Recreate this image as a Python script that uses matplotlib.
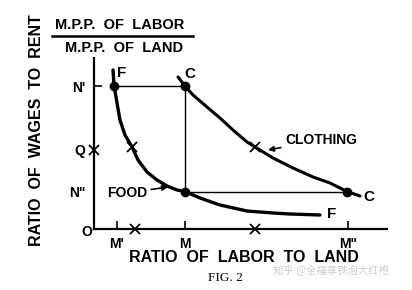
import matplotlib.pyplot as plt

# ratio of labor to land (x) vs ratio of wages to rent (y)
food_x = [1.9, 2.0, 2.3, 2.6, 3.1, 3.8, 4.4, 5.3, 6.3, 7.3, 8.3, 9.1,
          10.6, 12.6, 15.3, 17.9, 19.6, 22.6]
food_y = [15.9, 14.4, 12.6, 10.9, 9.4, 8.2, 6.9, 5.7, 4.9, 4.3, 3.9, 3.75,
          3.1, 2.4, 1.8, 1.6, 1.5, 1.4]

cloth_x = [8.4, 9.1, 9.9, 11.3, 12.6, 13.9, 15.3, 16.1, 17.9, 19.9, 21.9,
           23.6, 25.3, 26.6]
cloth_y = [15.2, 14.3, 13.4, 12.2, 11.1, 9.9, 8.7, 8.2, 7.1, 6.1, 5.2,
           4.6, 3.75, 3.3]

# equilibrium points (dots) and reference points (crosses)
dot_x = [2.0, 9.1, 9.1, 25.3]
dot_y = [14.3, 14.3, 3.75, 3.75]
cross_x = [0, 3.8, 16.1, 4.1, 16.1]
cross_y = [7.9, 8.2, 8.2, 0, 0]

yticks = [14.3, 7.9, 3.75]
ylabels = ["N'", "Q", 'N"']
xticks = [2.3, 9.1, 25.4]
xlabels = ["M'", "M", 'M"']

plt.rcParams['font.family'] = ['Liberation Sans', 'DejaVu Sans']
fig = plt.figure(figsize=(4.12, 2.90), dpi=100)
ax = fig.add_axes([94 / 412, 61 / 290, 293 / 412, 171 / 290])

for s in ['top', 'right']:
    ax.spines[s].set_visible(False)
for s in ['left', 'bottom']:
    ax.spines[s].set_linewidth(1.6)
ax.set_xlim(0, 29.3)
ax.set_ylim(0, 17.1)

ax.set_xticks(xticks)
ax.set_xticklabels(xlabels, fontsize=10, fontweight='bold')
ax.set_yticks(yticks)
ax.set_yticklabels(ylabels, fontsize=10, fontweight='bold')
ax.tick_params(direction='in', length=6, width=1.2, pad=6)
# only N' carries a tick mark on the vertical axis
for i, t in enumerate(ax.yaxis.get_major_ticks()):
    if i > 0:
        t.tick1line.set_visible(False)

# construction lines
ax.plot([dot_x[0], dot_x[1]], [dot_y[0], dot_y[1]], color='black', lw=1)
ax.plot([dot_x[1], dot_x[2]], [dot_y[1], dot_y[2]], color='black', lw=1)
ax.plot([dot_x[2], dot_x[3]], [dot_y[2], dot_y[3]], color='black', lw=1)

# the two curves
ax.plot(food_x, food_y, color='black', lw=2.4, solid_capstyle='round',
        solid_joinstyle='round')
ax.plot(cloth_x, cloth_y, color='black', lw=2.2, solid_capstyle='round',
        solid_joinstyle='round')

ax.plot(dot_x, dot_y, 'o', color='black', ms=6, clip_on=False)
ax.plot(cross_x, cross_y, 'x', color='black', ms=7, mew=1.3, clip_on=False)

bold = dict(fontweight='bold', color='black')
ax.text(2.8, 15.6, 'F', fontsize=11, ha='center', va='center', **bold)
ax.text(9.6, 15.5, 'C', fontsize=11, ha='center', va='center', **bold)
ax.text(23.8, 1.5, 'F', fontsize=11, ha='center', va='center', **bold)
ax.text(27.5, 3.2, 'C', fontsize=11, ha='center', va='center', **bold)
ax.text(-0.7, -0.3, 'O', fontsize=10, ha='center', va='center', **bold)

ax.annotate('CLOTHING', xy=(17.4, 7.9), xytext=(19.1, 8.9), fontsize=10,
            ha='left', va='center', **bold,
            arrowprops=dict(arrowstyle='-|>', color='black', lw=1.2,
                            mutation_scale=8, shrinkA=1, shrinkB=0))
ax.annotate('FOOD', xy=(7.4, 4.2), xytext=(3.3, 3.6), fontsize=10,
            ha='center', va='center', **bold,
            arrowprops=dict(arrowstyle='-|>', color='black', lw=1.2,
                            mutation_scale=8, shrinkA=1, shrinkB=0))

# axis titles
ax.text(15.0, -2.9, 'RATIO  OF  LABOR  TO  LAND', fontsize=11.5,
        ha='center', va='center', **bold)
ax.text(-5.7, 9.9, 'RATIO  OF  WAGES  TO  RENT', fontsize=11.5, rotation=90,
        ha='center', va='center', **bold)

# fraction above the vertical axis
ax.text(2.6, 20.4, 'M.P.P.  OF  LABOR', fontsize=10.5, ha='center', va='center', **bold)
ax.plot([-4.2, 9.9], [19.3, 19.3], color='black', lw=1.8, clip_on=False)
ax.text(3.0, 18.1, 'M.P.P.  OF  LAND', fontsize=10.5, ha='center', va='center', **bold)

ax.text(13.1, -4.9, 'FIG. 2', fontsize=9.5, family='Liberation Serif',
        ha='center', va='center', color='black')
ax.text(23.7, -4.1, '知乎 @全福享铁泡大红袍', fontsize=7.5, color='#cccccc',
        family=['Noto Sans CJK SC', 'DejaVu Sans'], ha='center', va='center')

fig.savefig('out.png', dpi=100)
